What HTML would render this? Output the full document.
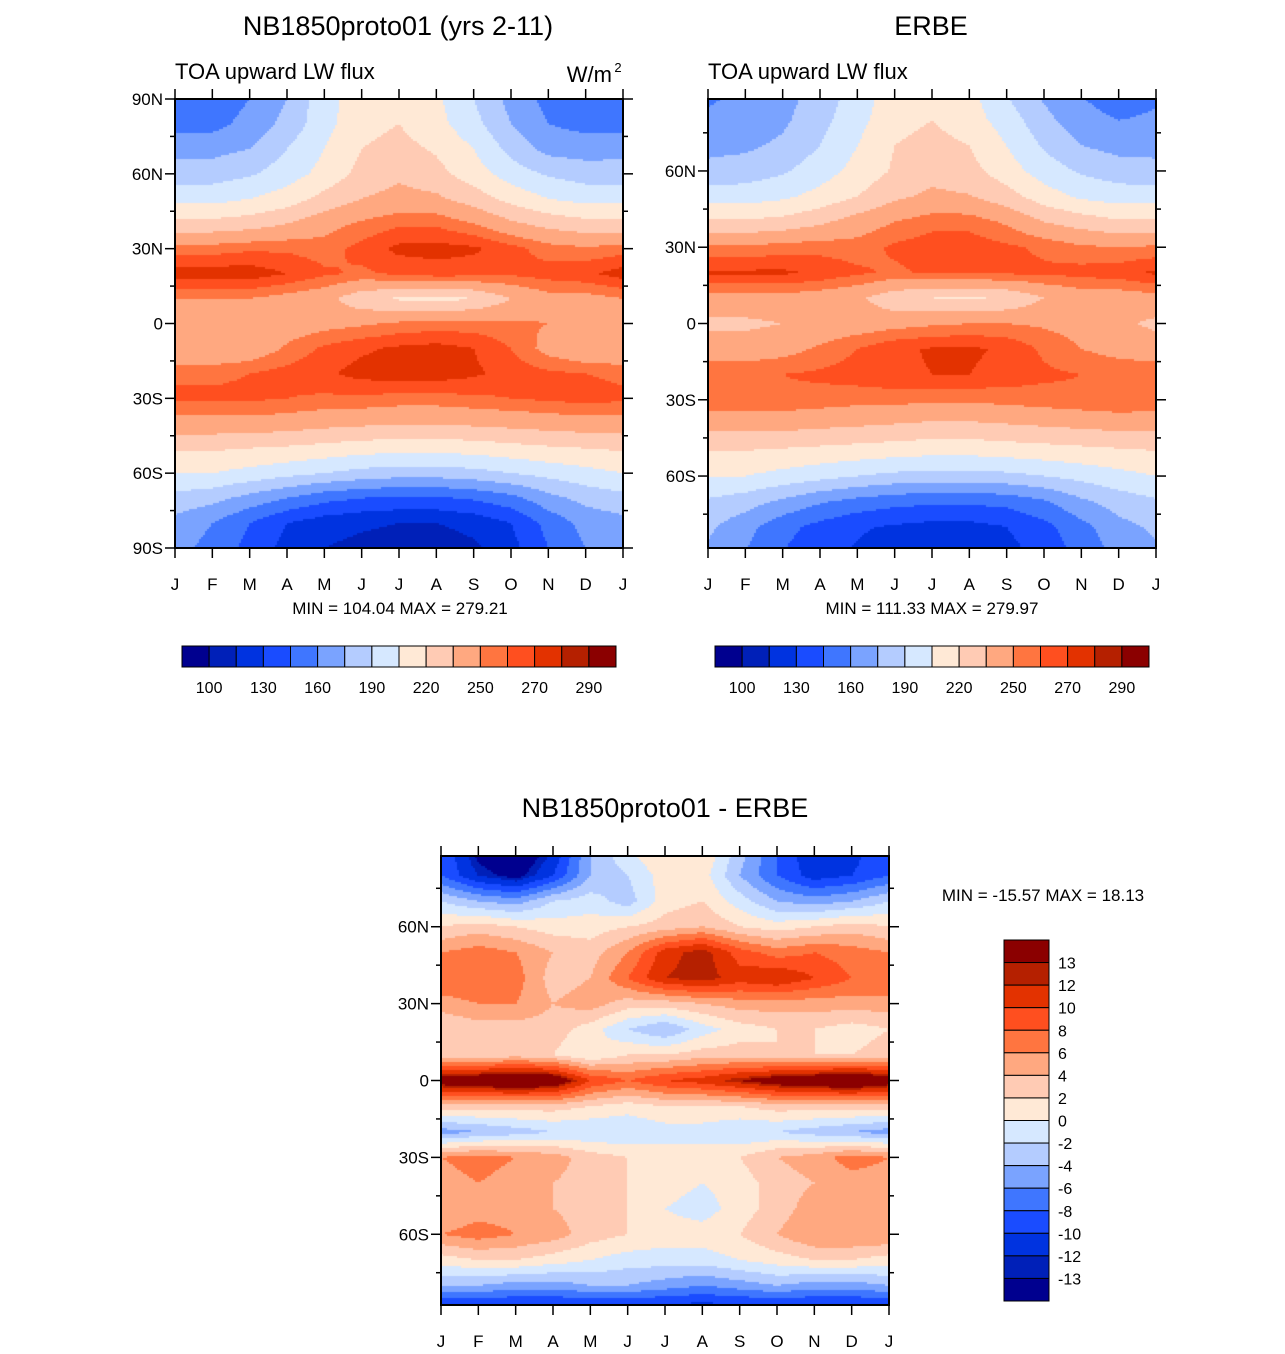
<!DOCTYPE html>
<html><head><meta charset="utf-8">
<style>
body{margin:0;background:#fff;width:1285px;height:1354px;position:relative;overflow:hidden;font-family:"Liberation Sans",sans-serif;}
canvas{position:absolute;}
svg{position:absolute;left:0;top:0;}
</style></head>
<body>
<canvas id="c1" width="448" height="449" style="left:175px;top:99px"></canvas>
<canvas id="c2" width="448" height="449" style="left:708px;top:99px"></canvas>
<canvas id="c3" width="448" height="449" style="left:441px;top:856px"></canvas>
<svg id="ov" width="1285" height="1354" font-family="Liberation Sans, sans-serif"></svg>
<script>
const monthLabels=["J","F","M","A","M","J","J","A","S","O","N","D","J"];
const latRows=[90,80,70,60,50,40,30,20,10,0,-10,-20,-30,-40,-50,-60,-70,-80,-90];
const palette=["#00008f","#0020b8","#0033e0","#1a4cff","#3f76ff","#7aa3ff","#b4ccff","#d6e8ff","#ffe9d6","#ffcbb4","#ffa880","#ff7540","#ff4f1f","#e33200","#b52000","#8b0000"];
const fluxLevels=[100,115,130,145,160,175,190,205,220,235,250,260,270,280,290];
const fluxTickLabels=["100","130","160","190","220","250","270","290"];
const diffLevels=[-13,-12,-10,-8,-6,-4,-2,0,2,4,6,8,10,12,13];
const diffTickLabels=["13","12","10","8","6","4","2","0","-2","-4","-6","-8","-10","-12","-13"];
const modelValues=[
[150,150,160,175,200,212,215,208,190,170,155,150,150],
[155,155,165,180,200,215,220,210,195,175,160,155,155],
[170,170,175,190,205,220,225,218,205,185,170,168,170],
[182,183,188,198,210,225,232,225,212,198,188,183,182],
[200,200,205,212,225,235,240,238,228,215,205,200,200],
[225,225,228,235,245,252,258,258,250,238,230,225,225],
[255,255,258,258,255,264,273,274,272,264,255,252,255],
[275,276,276,270,262,258,262,265,264,262,265,268,275],
[250,250,250,245,240,225,218,215,220,235,245,245,250],
[240,240,240,242,245,248,252,254,254,252,250,245,240],
[235,235,240,252,262,268,272,274,270,260,245,237,235],
[258,258,260,264,268,274,276,276,272,266,262,260,258],
[262,262,262,260,258,258,256,256,258,260,262,264,262],
[245,245,245,243,240,238,236,236,238,240,242,244,245],
[222,222,220,218,215,212,210,210,212,215,218,220,222],
[205,205,200,195,190,185,182,182,185,190,195,200,205],
[185,180,170,160,150,145,143,143,147,155,170,180,185],
[170,160,145,130,122,118,115,115,120,130,150,165,170],
[165,155,140,125,115,110,106,106,112,125,145,160,165]];
const erbeValues=[
[158,162,170,180,198,212,215,210,190,172,160,152,158],
[162,165,172,185,200,215,220,212,198,180,165,160,162],
[170,172,178,190,205,220,225,220,205,188,175,170,170],
[180,182,188,198,210,222,230,225,212,198,188,182,180],
[198,198,202,210,220,232,238,236,226,212,202,198,198],
[222,222,225,232,242,250,256,256,248,235,228,222,222],
[252,252,255,256,255,262,266,266,262,258,252,250,252],
[272,272,272,268,262,258,262,262,262,262,264,266,272],
[245,245,245,242,238,225,220,218,222,235,242,242,245],
[232,232,235,240,242,245,248,250,250,248,245,238,232],
[242,242,245,252,260,268,271,272,268,258,250,245,242],
[258,258,260,262,265,268,270,270,266,262,260,258,258],
[258,258,258,256,254,254,252,252,254,256,258,260,258],
[240,240,240,238,236,234,232,232,234,236,238,240,240],
[220,220,218,216,214,212,210,210,212,214,216,218,220],
[205,205,200,195,190,186,184,184,186,190,195,200,205],
[188,182,172,162,155,150,148,148,150,158,172,182,188],
[178,165,150,140,132,128,125,125,130,140,155,170,178],
[172,160,145,135,128,122,118,118,125,135,150,165,172]];
const diffValues=[
[-8,-14,-16,-12,-4,0,2,2,-3,-8,-12,-11,-8],
[-8,-12,-14,-10,-4,-2,1,1,-4,-8,-11,-10,-8],
[-2,-4,-5,-2,-1,-3,1,2,-1,-4,-5,-4,-2],
[2,3,2,1,1,2,3,4,2,1,2,3,2],
[6,7,6,4,3,6,11,13,9,7,8,7,6],
[8,8,7,3,4,8,12,13,11,12,10,8,8],
[5,6,6,4,5,3,3,4,5,5,5,5,5],
[2,3,3,3,1,-2,-4,-1,1,2,2,1,2],
[3,2,3,2,0,2,2,3,3,2,2,2,3],
[15,16,17,16,10,8,10,11,13,15,16,17,15],
[3,3,3,3,2,1,2,2,2,3,3,3,3],
[-5,-4,-3,-2,-2,-2,-1,-1,-2,-2,-3,-4,-5],
[6,7,6,5,3,2,1,1,2,4,5,7,6],
[5,6,5,4,3,2,1,0,1,3,4,5,5],
[4,5,5,4,3,2,0,-1,1,3,5,5,4],
[6,7,6,5,3,2,1,1,2,4,6,6,6],
[1,2,2,1,0,-1,-1,-1,0,1,2,2,1],
[-4,-4,-5,-5,-4,-4,-5,-6,-5,-4,-5,-5,-4],
[-12,-12,-12,-12,-12,-12,-12,-12,-12,-12,-12,-12,-12]];

function sample(data,m,lat){
  const r=Math.min(17.999,Math.max(0,(90-lat)/10)), c=Math.min(11.999,Math.max(0,m));
  const r0=Math.floor(r),c0=Math.floor(c),fr=r-r0,fc=c-c0;
  const a=data[r0][c0],b=data[r0][c0+1],d=data[r0+1][c0],e=data[r0+1][c0+1];
  return (a*(1-fc)+b*fc)*(1-fr)+(d*(1-fc)+e*fc)*fr;
}
function drawField(id,data,levels,latTop,latBot){
  const cv=document.getElementById(id),ctx=cv.getContext('2d'),W=cv.width,H=cv.height,s=2;
  for(let y=0;y<H;y+=s)for(let x=0;x<W;x+=s){
    const m=(x+s/2)/W*12, lat=latTop-(y+s/2)/H*(latTop-latBot);
    const v=sample(data,m,lat); let k=0; while(k<levels.length&&v>=levels[k])k++;
    ctx.fillStyle=palette[k]; ctx.fillRect(x,y,s,s);
  }
}
drawField('c1',modelValues,fluxLevels,90,-90);
drawField('c2',erbeValues,fluxLevels,88.3,-88.3);
drawField('c3',diffValues,diffLevels,87.6,-87.6);

const NS="http://www.w3.org/2000/svg",ov=document.getElementById('ov');
function el(tag,attrs,txt){const e=document.createElementNS(NS,tag);for(const k in attrs)e.setAttribute(k,attrs[k]);if(txt!==undefined)e.textContent=txt;ov.appendChild(e);return e;}
function text(x,y,t,size,anchor,name){const e=el('text',{x:x,y:y,'font-size':size,'text-anchor':anchor||'middle',fill:'#000'},t);

return e;}
function axes(x0,y0,w,h,latTop,labels,prefix){
  const f=el('rect',{x:x0,y:y0,width:w,height:h,fill:'none',stroke:'#000','stroke-width':2});
  
  
  const yOf=l=>y0+(latTop-l)/(2*latTop)*h;
  for(let l=-90;l<=90;l+=15){ if(Math.abs(l)>latTop+0.01)continue;
    const y=yOf(l),len=(l%30===0)?10:5;
    el('line',{x1:x0-len,y1:y,x2:x0,y2:y,stroke:'#000','stroke-width':1.5});
    el('line',{x1:x0+w,y1:y,x2:x0+w+len,y2:y,stroke:'#000','stroke-width':1.5});
  }
  labels.forEach(([l,t])=>text(x0-12,yOf(l)+6,t,17,'end',prefix+'-lat-label'));
  for(let i=0;i<13;i++){const x=x0+i*w/12;
    el('line',{x1:x,y1:y0-10,x2:x,y2:y0,stroke:'#000','stroke-width':1.5});
    el('line',{x1:x,y1:y0+h,x2:x,y2:y0+h+10,stroke:'#000','stroke-width':1.5});
    text(x,y0+h+42,monthLabels[i],17,'middle',prefix+'-month-label');}
}
axes(175,99,448,449,90,[[90,'90N'],[60,'60N'],[30,'30N'],[0,'0'],[-30,'30S'],[-60,'60S'],[-90,'90S']],'model');
axes(708,99,448,449,88.3,[[60,'60N'],[30,'30N'],[0,'0'],[-30,'30S'],[-60,'60S']],'erbe');
axes(441,856,448,449,87.6,[[60,'60N'],[30,'30N'],[0,'0'],[-30,'30S'],[-60,'60S']],'diff');

text(398,35,'NB1850proto01 (yrs 2-11)',27,'middle','model-title');
text(931,35,'ERBE',27,'middle','erbe-title');
text(175,79,'TOA upward LW flux',22,'start','model-subtitle');
text(708,79,'TOA upward LW flux',22,'start','erbe-subtitle');
text(612,82,'W/m',22,'end','units-label');
text(618,72,'2',13,'middle','units-exponent');
text(400,614,'MIN = 104.04 MAX = 279.21',17,'middle','model-minmax');
text(932,614,'MIN = 111.33 MAX = 279.97',17,'middle','erbe-minmax');
text(665,817,'NB1850proto01 - ERBE',27,'middle','diff-title');
text(1043,901,'MIN = -15.57 MAX =  18.13',17,'middle','diff-minmax');

function hbar(x0,prefix){
  const bw=434/16;
  palette.forEach((c,i)=>{const r=el('rect',{x:x0+i*bw,y:646,width:bw,height:21,fill:c,stroke:'#000','stroke-width':1});
    
    });
  fluxTickLabels.forEach((t,j)=>text(x0+(2*j+1)*bw,693,t,16,'middle',prefix+'-colorbar-label'));
}
hbar(182,'model');hbar(715,'erbe');
const vbh=361/16;
palette.slice().reverse().forEach((c,i)=>{const r=el('rect',{x:1004,y:940+i*vbh,width:45,height:vbh,fill:c,stroke:'#000','stroke-width':1});
  
  });
diffTickLabels.forEach((t,j)=>text(1058,940+(j+1)*vbh+6,t,16,'start','diff-colorbar-label'));
</script>
</body></html>
